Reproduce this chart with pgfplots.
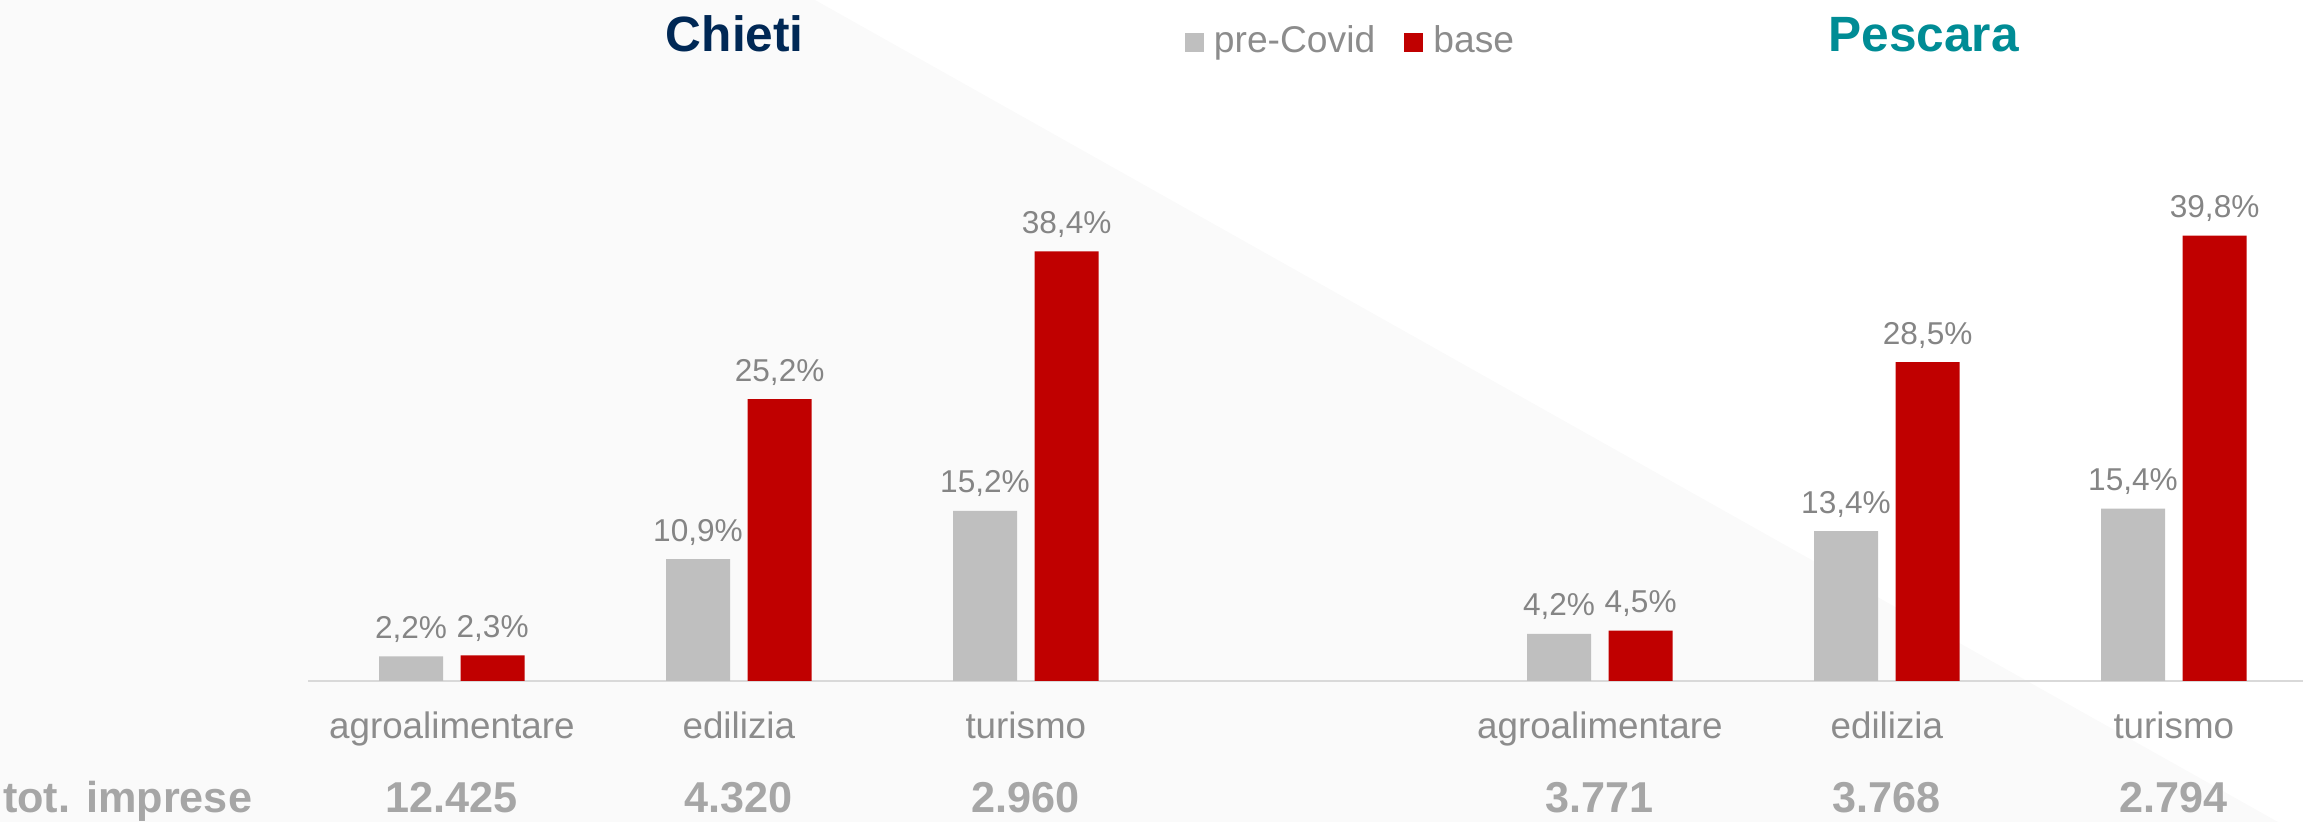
\documentclass[border=0pt]{standalone}
\usepackage{fontspec}
\setmainfont{Liberation Sans}
\usepackage{pgfplots}
\pgfplotsset{compat=1.18}

\definecolor{barGray}{HTML}{BFBFBF}
\definecolor{barRed}{HTML}{C00000}
\definecolor{catGray}{HTML}{8C8C8C}
\definecolor{valGray}{HTML}{858585}
\definecolor{totGray}{HTML}{A6A6A6}
\definecolor{baseGray}{HTML}{D9D9D9}
\definecolor{bgGray}{HTML}{FAFAFA}
\definecolor{chietiBlue}{HTML}{002855}
\definecolor{pescaraTeal}{HTML}{008C95}

\pgfplotsset{
  sqlegend/.style = {
    legend image code/.code = {\fill[##1] (0pt,-2.4pt) rectangle (4.8pt,2.4pt);},
  },
  % #1 = sideways offset of the bar (and its value label) from the category
  barstyle/.style = {
    ybar, bar width = 16pt, bar shift = #1, draw = none, sqlegend,
    nodes near coords = {\pgfmathprintnumber[fixed, fixed zerofill, precision=1, use comma, assume math mode=true]{\pgfplotspointmeta}\%},
    every node near coord/.append style = {
      anchor = base, xshift = #1, yshift = 4.5pt, inner sep = 0pt,
      font = \fontsize{7.9}{9}\selectfont, text = valGray,
    },
  },
}

\begin{document}
\begin{tikzpicture}
  \path[use as bounding box] (0pt,0pt) rectangle (576pt,205.5pt);
  % pale diagonal band behind the chart
  \fill[bgGray] (0pt,0pt) -- (0pt,205.5pt) -- (203.75pt,205.5pt) -- (569.5pt,0pt) -- cycle;

  \begin{axis}[
    at = {(77.08pt,35.25pt)}, anchor = south west,
    scale only axis, width = 498.66pt, height = 170.25pt,
    xmin = -0.5, xmax = 6.45, ymin = 0, ymax = 60.86,
    enlargelimits = false, clip = false,
    axis x line* = bottom, axis y line = none,
    x axis line style = {-, draw = baseGray, line width = 0.45pt},
    major tick length = 0pt,
    xtick = {0,1,2,4,5,6},
    xticklabels = {agroalimentare, edilizia, turismo, agroalimentare, edilizia, turismo},
    xticklabel style = {anchor = base, yshift = -14.5pt, inner sep = 0pt,
      font = \fontsize{9.2}{10}\selectfont, text = catGray},
    extra x ticks = {0,1,2,4,5,6},
    extra x tick labels = {12.425, 4.320, 2.960, 3.771, 3.768, 2.794},
    extra x tick style = {xticklabel style = {yshift = -18.5pt,
      font = \fontsize{10.8}{12}\selectfont\bfseries, text = totGray}},
    legend columns = 2,
    legend style = {
      at = {(0.439,0.9377)}, anchor = west,
      draw = none, fill = none, inner sep = 0pt,
      font = \fontsize{9.3}{11}\selectfont, text = catGray,
      nodes = {inner xsep = 0pt, inner ysep = 1pt},
      /tikz/every odd column/.append style = {column sep = 2.5pt},
      /tikz/every even column/.append style = {column sep = 7.25pt},
    },
    legend cell align = left,
  ]
    \addplot[barstyle = -10.2pt, fill = barGray]
      coordinates {(0,2.2) (1,10.9) (2,15.2) (4,4.2) (5,13.4) (6,15.4)};
    \addplot[barstyle = 10.2pt, fill = barRed]
      coordinates {(0,2.3) (1,25.2) (2,38.4) (4,4.5) (5,28.5) (6,39.8)};
    \legend{pre-Covid, base}
  \end{axis}

  \node[anchor = base, inner sep = 0pt, font = \fontsize{12.4}{14}\selectfont\bfseries, text = chietiBlue]
    at (183.7pt,192.5pt) {Chieti};
  \node[anchor = base, inner sep = 0pt, font = \fontsize{12.4}{14}\selectfont\bfseries, text = pescaraTeal]
    at (480.9pt,192.5pt) {Pescara};
  \node[anchor = base west, inner sep = 0pt, font = \fontsize{10.8}{12}\selectfont\bfseries, text = totGray]
    at (0.6pt,2.25pt) {tot. imprese};
\end{tikzpicture}
\end{document}
